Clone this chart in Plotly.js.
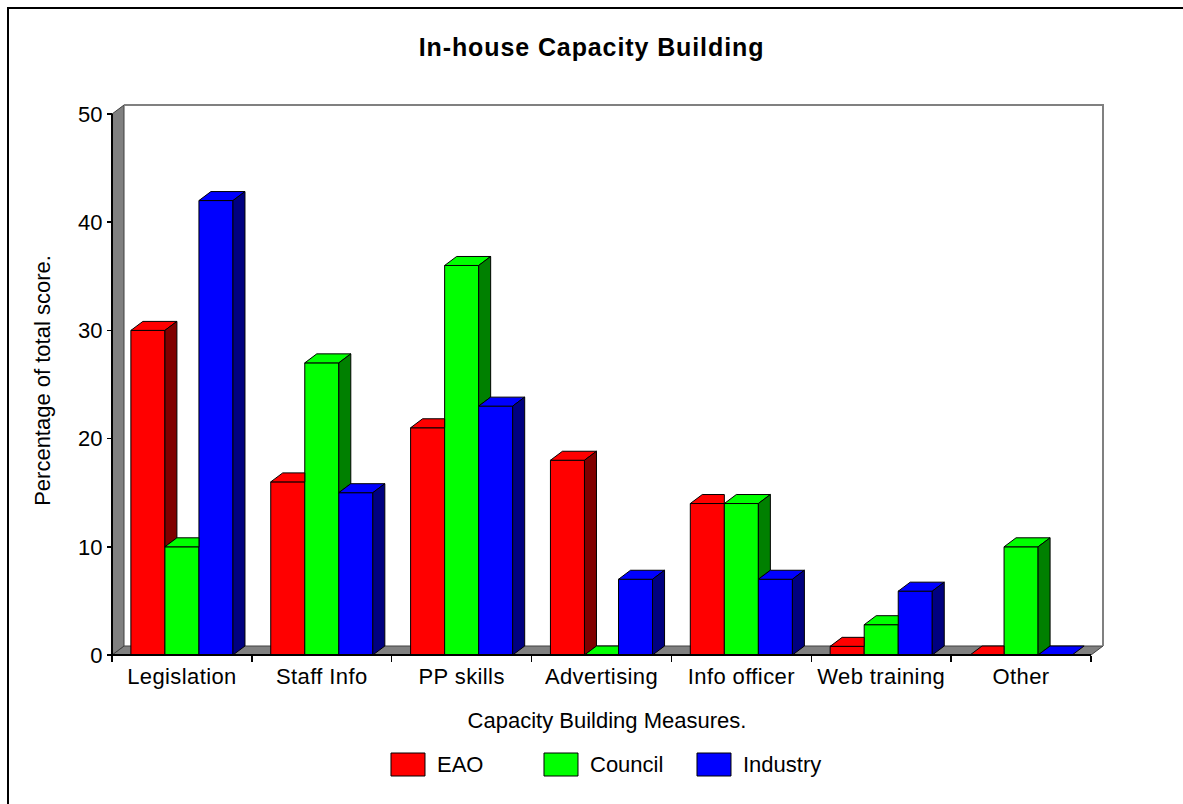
<!DOCTYPE html>
<html>
<head>
<meta charset="utf-8">
<script src="https://cdn.plot.ly/plotly-3.0.1.min.js"></script>
<style>
  html, body { margin: 0; padding: 0; background: #fff; overflow: hidden; }
  #chart { width: 1183px; height: 804px; }
  #frame { position: absolute; left: 7px; top: 7px; width: 1400px; height: 1000px;
           border-left: 2px solid #000; border-top: 2px solid #000; box-sizing: border-box; pointer-events: none; }
  .gtitle { letter-spacing: 0.9px; }
  .xtick text { letter-spacing: 0.4px; }
</style>
</head>
<body>
<div id="chart"></div>
<div id="frame"></div>
<script>
// ---------------- data ----------------
const categories = ['Legislation', 'Staff Info', 'PP skills', 'Advertising', 'Info officer', 'Web training', 'Other'];
const seriesNames = ['EAO', 'Council', 'Industry'];
const eao      = [30, 16, 21, 18, 14, 0.8, 0];
const council  = [10, 27, 36, 0, 14, 2.8, 10];
const industry = [42, 15, 23, 7, 7, 5.9, 0];
const yTicks = [0, 10, 20, 30, 40, 50];

const chartTitle = 'In-house Capacity Building';
const xTitle = 'Capacity Building Measures.';
const yTitle = 'Percentage of total score.';

// ---------------- style ----------------
const frontColors = ['#FF0000', '#00FF00', '#0000FF'];
const sideColors  = ['#800000', '#008000', '#000080'];
const FONT = 'Liberation Sans, Arial, Helvetica, sans-serif';

// ---------------- geometry ----------------
const series = [eao, council, industry];
const N = categories.length;
const xIdx = categories.map((_, i) => i);
const yTop = Math.max(...yTicks);

const W = 1183, H = 804;
const PX = 139.86, PY = 10.82;          // pixels per category / per percent
const dx = 12 / PX, dy = 9 / PY;         // 3-D depth offset in data units
const padL = 3, padB = 3, padR = 2, padT = 2;
const XMIN = -0.5 - padL / PX, XMAX = N - 0.5 + dx + padR / PX;
const YMIN = -padB / PY, YMAX = yTop + dy + padT / PY;
const frontLeft = 112, frontBottom = 655;
const plotW = (XMAX - XMIN) * PX, plotH = (YMAX - YMIN) * PY;
const mL = frontLeft - padL, mB = H - frontBottom - padB;
const mR = W - mL - plotW, mT = H - mB - plotH;

const GW = 0.73;                         // width of a group of bars
const bw = GW / series.length;           // width of one bar

const px2x = px => (px - mL) / plotW;
const py2y = py => (H - mB - py) / plotH;

// ---------------- traces ----------------
const traces = [];
series.forEach((vals, s) => {
  traces.push({
    type: 'bar', x: xIdx, y: vals, name: seriesNames[s],
    width: bw, offset: -GW / 2 + s * bw,
    marker: { color: frontColors[s], line: { color: '#000', width: 1 } },
    showlegend: false, hovertemplate: '%{y}<extra>' + seriesNames[s] + '</extra>'
  });
});

series.forEach((vals, s) => {
  const tx = [], ty = [], sx = [], sy = [];
  vals.forEach((v, i) => {
    const x0 = i - GW / 2 + s * bw, x1 = x0 + bw;
    const next = s < series.length - 1 ? series[s + 1][i] : null;
    if (next !== null && next >= v) {
      tx.push(x0, x1, x1, x0 + dx, x0, null);
      ty.push(v, v, v + dy, v + dy, v, null);
    } else {
      tx.push(x0, x1, x1 + dx, x0 + dx, x0, null);
      ty.push(v, v, v + dy, v + dy, v, null);
    }
    const base = next === null ? 0 : next;
    if (v > base) {
      sx.push(x1, x1, x1 + dx, x1 + dx, x1, null);
      sy.push(base, v, v + dy, base + dy, base, null);
    }
  });
  traces.push({
    type: 'scatter', mode: 'lines', x: tx, y: ty, fill: 'toself',
    fillcolor: frontColors[s], line: { color: '#000', width: 1 },
    hoverinfo: 'skip', showlegend: false
  });
  traces.push({
    type: 'scatter', mode: 'lines', x: sx, y: sy, fill: 'toself',
    fillcolor: sideColors[s], line: { color: '#000', width: 1 },
    hoverinfo: 'skip', showlegend: false
  });
});

// ---------------- walls, axes lines ----------------
const xl = -0.5, xr = N - 0.5;
const shapes = [
  { type: 'path', xref: 'x', yref: 'y', layer: 'below',
    path: `M${xl},0 L${xr},0 L${xr + dx},${dy} L${xl + dx},${dy} Z`,
    fillcolor: '#808080', line: { color: '#404040', width: 1 } },
  { type: 'path', xref: 'x', yref: 'y', layer: 'below',
    path: `M${xl},0 L${xl},${yTop} L${xl + dx},${yTop + dy} L${xl + dx},${dy} Z`,
    fillcolor: '#808080', line: { color: '#404040', width: 1 } },
  { type: 'path', xref: 'x', yref: 'y', layer: 'below',
    path: `M${xl + dx},${yTop + dy} L${xr + dx},${yTop + dy} L${xr + dx},${dy}`,
    line: { color: '#808080', width: 2 } },
  { type: 'path', xref: 'x', yref: 'y', layer: 'above',
    path: `M${xl},${yTop} L${xl},0 L${xr},0`,
    line: { color: '#000', width: 2 } }
];

// ---------------- custom legend ----------------
const legX0 = 391, legStep = 153, legW = 34, legTop = 753, legH = 23, legTextGap = 46;
const annotations = [];
seriesNames.forEach((nm, s) => {
  const x0 = legX0 + s * legStep;
  shapes.push({ type: 'rect', xref: 'paper', yref: 'paper',
    x0: px2x(x0), x1: px2x(x0 + legW), y0: py2y(legTop + legH), y1: py2y(legTop),
    fillcolor: frontColors[s], line: { color: '#000', width: 1 } });
  annotations.push({ xref: 'paper', yref: 'paper', x: px2x(x0 + legTextGap - 2), y: py2y(legTop + legH / 2),
    xanchor: 'left', yanchor: 'middle', showarrow: false, text: nm,
    font: { family: FONT, size: 22, color: '#000' } });
});

const boundaries = xIdx.map(i => i - 0.5).concat([N - 0.5]);

const layout = {
  width: W, height: H,
  margin: { l: mL, r: mR, t: mT, b: mB, pad: 0 },
  paper_bgcolor: '#fff', plot_bgcolor: 'rgba(0,0,0,0)',
  font: { family: FONT, size: 22, color: '#000' },
  barmode: 'overlay',
  showlegend: false,
  title: { text: chartTitle, x: 0.5, xref: 'container', xanchor: 'center',
           y: 1 - 47 / H, yref: 'container', yanchor: 'middle',
           font: { family: FONT, size: 25, weight: 'bold', color: '#000' } },
  xaxis: {
    type: 'linear', range: [XMIN, XMAX], anchor: 'free', position: padB / plotH,
    tickmode: 'array', tickvals: xIdx, ticktext: categories,
    ticks: 'outside', ticklen: 2, tickcolor: 'rgba(0,0,0,0)',
    minor: { tickmode: 'array', tickvals: boundaries, ticks: 'outside', ticklen: 6, tickwidth: 1.5, tickcolor: '#000', showgrid: false },
    showgrid: false, zeroline: false, showline: false, fixedrange: true,
    tickfont: { family: FONT, size: 22, color: '#000' },
    title: { text: xTitle, standoff: 24, font: { family: FONT, size: 22, color: '#000' } }
  },
  yaxis: {
    type: 'linear', range: [YMIN, YMAX], anchor: 'free', position: padL / plotW,
    tickmode: 'array', tickvals: yTicks, ticks: 'outside', ticklen: 5, tickwidth: 1.5, tickcolor: '#000',
    showgrid: false, zeroline: false, showline: false, fixedrange: true,
    tickfont: { family: FONT, size: 22, color: '#000' },
    title: { text: yTitle, standoff: 20, font: { family: FONT, size: 22, color: '#000' } }
  },
  shapes: shapes,
  annotations: annotations
};

Plotly.newPlot('chart', traces, layout, { displayModeBar: false, staticPlot: true });
</script>
</body>
</html>
